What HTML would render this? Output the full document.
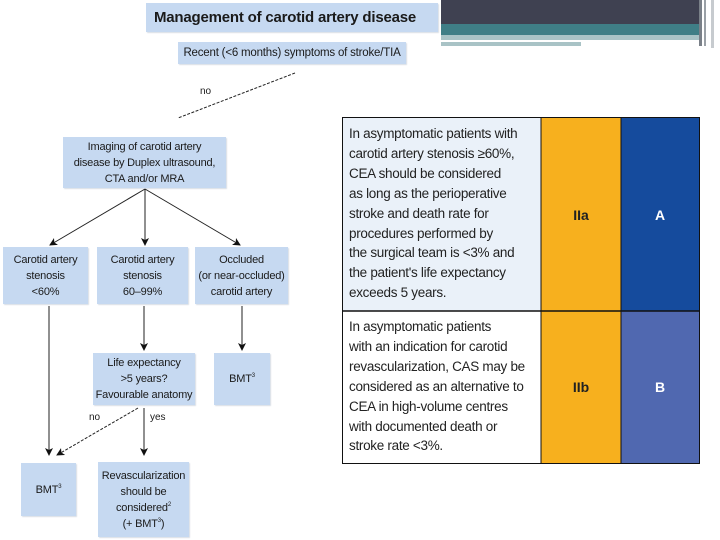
<!DOCTYPE html>
<html><head><meta charset="utf-8"><style>
body{margin:0;width:720px;height:540px;background:#fff;position:relative;overflow:hidden;font-family:"Liberation Sans Narrow","Liberation Sans",sans-serif;color:#1a1a1a}
.b{position:absolute;background:#c6d9f1;box-shadow:1px 1px 1px #d8dee6;display:flex;align-items:center;justify-content:center;text-align:center;font-size:11px;line-height:16px;letter-spacing:-0.2px}
.b sup{font-size:6px;line-height:0;vertical-align:5px}
.t{position:absolute;font-size:13.5px;line-height:19.9px;letter-spacing:-0.3px;color:#222}
svg{position:absolute;left:0;top:0}
</style></head><body>
<div style="position:absolute;left:441px;top:0;width:258px;height:24px;background:#3f4151"></div>
<div style="position:absolute;left:441px;top:24px;width:258px;height:11px;background:#3f7e86"></div>
<div style="position:absolute;left:441px;top:35px;width:258px;height:5px;background:#a9c3c6"></div>
<div style="position:absolute;left:441px;top:40px;width:225px;height:2px;background:#fff"></div>
<div style="position:absolute;left:441px;top:42px;width:140px;height:4px;background:#a9c3c6"></div>
<div style="position:absolute;left:699px;top:0;width:3px;height:46px;background:#7a8088"></div>
<div style="position:absolute;left:704px;top:0;width:2px;height:46px;background:#9aa0a6"></div>
<div style="position:absolute;left:711px;top:0;width:3px;height:48px;background:#c7cbcf"></div>

<div class="b" style="left:146px;top:3px;width:292px;height:29px;font-size:15px;font-weight:bold;justify-content:flex-start;padding-left:8px;box-sizing:border-box"><span>Management of carotid artery disease</span></div>
<div class="b" style="left:178px;top:42px;width:228px;height:22px;font-size:11.5px"><span>Recent (&lt;6 months) symptoms of stroke/TIA</span></div>
<div class="b" style="left:63px;top:137px;width:163px;height:51px"><span>Imaging of carotid artery<br>disease by Duplex ultrasound,<br>CTA and/or MRA</span></div>
<div class="b" style="left:3px;top:247px;width:85px;height:57px"><span>Carotid artery<br>stenosis<br>&lt;60%</span></div>
<div class="b" style="left:97px;top:247px;width:91px;height:57px"><span>Carotid artery<br>stenosis<br>60–99%</span></div>
<div class="b" style="left:195px;top:247px;width:93px;height:57px"><span>Occluded<br>(or near-occluded)<br>carotid artery</span></div>
<div class="b" style="left:93px;top:353px;width:102px;height:52px"><span>Life expectancy<br>&gt;5 years?<br>Favourable anatomy</span></div>
<div class="b" style="left:214px;top:353px;width:56px;height:52px"><span>BMT<sup>3</sup></span></div>
<div class="b" style="left:21px;top:463px;width:55px;height:53px"><span>BMT<sup>3</sup></span></div>
<div class="b" style="left:98px;top:462px;width:91px;height:75px"><span>Revascularization<br>should be<br>considered<sup>2</sup><br>(+ BMT<sup>3</sup>)</span></div>
<div style="position:absolute;left:200px;top:86px;font-size:10px">no</div>
<div style="position:absolute;left:89px;top:412px;font-size:10px">no</div>
<div style="position:absolute;left:150px;top:412px;font-size:10px">yes</div>

<svg width="720" height="540">
<defs><marker id="a" markerWidth="8" markerHeight="8" refX="7" refY="4" orient="auto"><path d="M0,0 L8,4 L0,8 L2,4z" fill="#111"/></marker></defs>
<g stroke="#222" stroke-width="1" fill="none">
<line x1="295" y1="73" x2="178" y2="118" stroke-dasharray="3,1.5"/>
<line x1="145" y1="189" x2="50" y2="245" marker-end="url(#a)"/>
<line x1="145" y1="189" x2="145" y2="245" marker-end="url(#a)"/>
<line x1="145" y1="189" x2="240" y2="245" marker-end="url(#a)"/>
<line x1="49" y1="306" x2="49" y2="455" marker-end="url(#a)"/>
<line x1="144" y1="306" x2="144" y2="350" marker-end="url(#a)"/>
<line x1="242" y1="306" x2="242" y2="350" marker-end="url(#a)"/>
<line x1="138" y1="408" x2="57" y2="455" stroke-dasharray="3,1.5" marker-end="url(#a)"/>
<line x1="144" y1="408" x2="144" y2="455" marker-end="url(#a)"/>
</g>
<rect x="342.5" y="117.5" width="357" height="346" fill="#fff" stroke="#111"/>
<rect x="343" y="118" width="198" height="193" fill="#eaf1f9"/>
<rect x="541" y="118" width="80" height="345" fill="#f7b01e"/>
<rect x="621" y="118" width="78" height="193" fill="#154b9d"/>
<rect x="621" y="311" width="78" height="152" fill="#5068b0"/>
<line x1="342" y1="311" x2="700" y2="311" stroke="#111" stroke-width="1.5"/>
<line x1="541" y1="118" x2="541" y2="463" stroke="#111"/>
<line x1="621" y1="118" x2="621" y2="463" stroke="#111"/>
<text x="581" y="220" font-family="Liberation Sans" font-weight="bold" font-size="14" text-anchor="middle" fill="#222">IIa</text>
<text x="660" y="220" font-family="Liberation Sans" font-weight="bold" font-size="14" text-anchor="middle" fill="#fff">A</text>
<text x="581" y="392" font-family="Liberation Sans" font-weight="bold" font-size="14" text-anchor="middle" fill="#222">IIb</text>
<text x="660" y="392" font-family="Liberation Sans" font-weight="bold" font-size="14" text-anchor="middle" fill="#fff">B</text>
</svg>
<div class="t" style="left:349px;top:124px">In asymptomatic patients with<br>carotid artery stenosis ≥60%,<br>CEA should be considered<br>as long as the perioperative<br>stroke and death rate for<br>procedures performed by<br>the surgical team is &lt;3% and<br>the patient's life expectancy<br>exceeds 5 years.</div>
<div class="t" style="left:349px;top:317px">In asymptomatic patients<br>with an indication for carotid<br>revascularization, CAS may be<br>considered as an alternative to<br>CEA in high-volume centres<br>with documented death or<br>stroke rate &lt;3%.</div>
</body></html>
